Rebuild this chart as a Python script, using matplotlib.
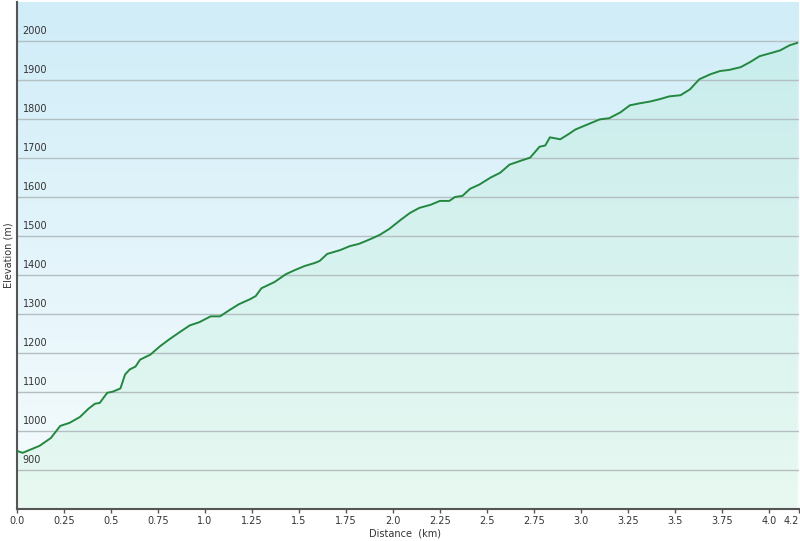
import matplotlib
matplotlib.use("Agg")
import matplotlib.pyplot as plt
import numpy as np
from matplotlib.colors import LinearSegmentedColormap

# elevation profile
dist_km = [0.0, 0.03, 0.12, 0.18, 0.23, 0.28, 0.335, 0.38, 0.415, 0.44, 0.48, 0.51,
           0.55, 0.575, 0.60, 0.63, 0.655, 0.71, 0.76, 0.81, 0.87, 0.92, 0.97, 1.03,
           1.08, 1.13, 1.18, 1.24, 1.27, 1.30, 1.37, 1.43, 1.48, 1.53, 1.585, 1.61,
           1.65, 1.72, 1.77, 1.82, 1.88, 1.93, 1.98, 2.04, 2.09, 2.14, 2.20, 2.25,
           2.30, 2.33, 2.37, 2.41, 2.46, 2.52, 2.57, 2.62, 2.68, 2.73, 2.78, 2.81,
           2.835, 2.89, 2.94, 2.97, 3.05, 3.10, 3.15, 3.21, 3.26, 3.31, 3.37, 3.42,
           3.47, 3.53, 3.58, 3.63, 3.69, 3.74, 3.79, 3.85, 3.90, 3.95, 4.01, 4.06,
           4.11, 4.15]
elev_m = [949, 944, 962, 982, 1013, 1021, 1036, 1057, 1070, 1072, 1098, 1101,
          1109, 1145, 1158, 1165, 1183, 1196, 1217, 1235, 1255, 1271, 1279, 1294,
          1294, 1310, 1325, 1338, 1346, 1366, 1382, 1402, 1413, 1423, 1431, 1436,
          1454, 1464, 1474, 1480, 1492, 1503, 1518, 1541, 1559, 1572, 1580, 1590,
          1590, 1600, 1603, 1621, 1632, 1650, 1662, 1683, 1693, 1701, 1729, 1732,
          1753, 1748, 1763, 1773, 1789, 1799, 1802, 1817, 1835, 1840, 1845, 1851,
          1858, 1861, 1876, 1902, 1915, 1923, 1926, 1933, 1946, 1961, 1969, 1976,
          1989, 1995]

x_ticks = [0.0, 0.25, 0.5, 0.75, 1.0, 1.25, 1.5, 1.75, 2.0, 2.25, 2.5, 2.75,
           3.0, 3.25, 3.5, 3.75, 4.0, 4.16]
x_labels = ["0.0", "0.25", "0.5", "0.75", "1.0", "1.25", "1.5", "1.75", "2.0",
            "2.25", "2.5", "2.75", "3.0", "3.25", "3.5", "3.75", "4.0", "4.2"]
y_ticks = [900, 1000, 1100, 1200, 1300, 1400, 1500, 1600, 1700, 1800, 1900, 2000]

xmin, xmax = 0.0, 4.16
ymin, ymax = 800, 2100

fig = plt.figure(figsize=(8, 5.41), dpi=100)
ax = fig.add_axes([17 / 800, 32 / 541, 782 / 800, 507 / 541])

# sky-ish background gradient
bg = LinearSegmentedColormap.from_list("bg", ["#f7fcfd", "#d0edf8"])
ax.imshow(np.linspace(0, 1, 256).reshape(-1, 1), cmap=bg, aspect="auto",
          extent=[xmin, xmax, ymin, ymax], origin="lower", zorder=0)

ax.fill_between(dist_km, elev_m, ymin, color="#8de8aa", alpha=0.14, lw=0, zorder=1)

for yv in y_ticks:
    ax.axhline(yv, color="#b4bfc2", lw=1.0, zorder=2)
    ax.text(0.03, yv + 12, str(yv), fontsize=7, color="#333333", ha="left",
            va="bottom", zorder=4)

ax.plot(dist_km, elev_m, color="#23883f", lw=1.4, zorder=3)

ax.set_xlim(xmin, xmax)
ax.set_ylim(ymin, ymax)
ax.set_xticks(x_ticks)
ax.set_xticklabels(x_labels, fontsize=7, color="#333333")
labels = ax.get_xticklabels()
labels[-1].set_horizontalalignment("right")
ax.set_yticks([])
ax.tick_params(axis="x", length=3, width=1, color="#555555", pad=2)

for s in ["top", "right"]:
    ax.spines[s].set_visible(False)
ax.spines["left"].set_color("#555555")
ax.spines["left"].set_linewidth(1.5)
ax.spines["bottom"].set_color("#555555")
ax.spines["bottom"].set_linewidth(1.5)

fig.text(405 / 800, 1 - 534 / 541, "Distance  (km)", fontsize=7, color="#333333",
         ha="center", va="center")
fig.text(9 / 800, 1 - 255 / 541, "Elevation (m)", fontsize=7, color="#333333",
         ha="center", va="center", rotation=90)

fig.savefig("out.png", dpi=100, facecolor="white")
